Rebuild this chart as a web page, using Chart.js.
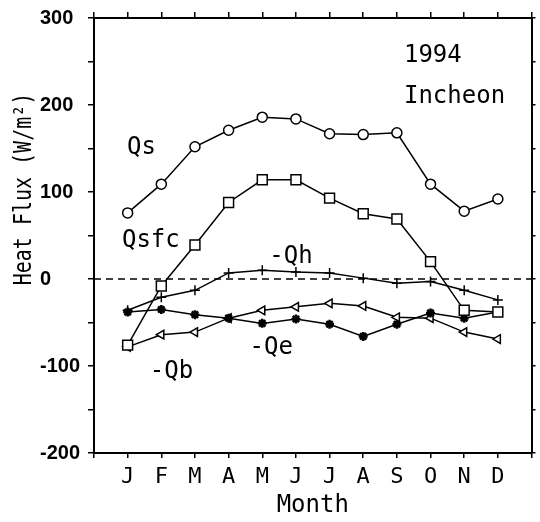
<!DOCTYPE html>
<html>
<head>
<meta charset="utf-8">
<script src="https://cdn.jsdelivr.net/npm/chart.js@4.4.0/dist/chart.umd.min.js"></script>
<style>
  html, body { margin: 0; padding: 0; background: #fff; }
</style>
</head>
<body>
<canvas id="graf" width="540" height="522"></canvas>
<script>
// --- DATOS (W/m2, Incheon 1994) ---
const meses = ["J", "F", "M", "A", "M", "J", "J", "A", "S", "O", "N", "D"];
const Qs   = [76, 109, 152, 171, 186, 184, 167, 166, 168, 109, 78, 92];
const Qsfc = [-76, -8, 39, 88, 114, 114, 93, 75, 69, 20, -36, -38];
const Qh   = [-36, -21, -13, 7, 10, 8, 7, 1, -5, -3, -13, -24];
const Qe   = [-38, -35, -41, -45, -51, -46, -52, -66, -52, -39, -45, -38];
const Qb   = [-78, -64, -61, -45, -36, -32, -28, -31, -44, -45, -61, -69];
const yEtiquetas = [300, 200, 100, 0, -100, -200];

const MONO = "DejaVu Sans Mono";

// mes i -> x = i + 1
const serie = vals => vals.map((v, i) => ({ x: i + 1, y: v }));

function dataset(label, vals, estilo, radio, extra) {
    return Object.assign({
        label: label,
        data: serie(vals),
        borderColor: "#000",
        borderWidth: 1.5,
        pointStyle: estilo,
        pointRadius: radio,
        pointBorderColor: "#000",
        pointBorderWidth: 1.5,
        pointBackgroundColor: "#fff",
        tension: 0
    }, extra || {});
}

// --- TEXTOS SOBRE LA GRAFICA ---
const textosPlugin = {
    id: "textos",
    beforeDatasetsDraw(chart) {
        const { ctx, chartArea, scales } = chart;
        const y0 = scales.y.getPixelForValue(0);
        ctx.save();
        ctx.strokeStyle = "#000";
        ctx.lineWidth = 1.5;
        ctx.setLineDash([7, 5]);
        ctx.beginPath();
        ctx.moveTo(chartArea.left, y0);
        ctx.lineTo(chartArea.right, y0);
        ctx.stroke();
        ctx.restore();
    },
    afterDraw(chart) {
        const { ctx, scales } = chart;
        const notas = [
            { t: "1994", x: 9.21, y: 257 },
            { t: "Incheon", x: 9.21, y: 209 },
            { t: "Qs", x: 0.98, y: 151 },
            { t: "Qsfc", x: 0.83, y: 44 },
            { t: "-Qh", x: 5.21, y: 26 },
            { t: "-Qe", x: 4.62, y: -79 },
            { t: "-Qb", x: 1.66, y: -107 }
        ];
        ctx.save();
        ctx.fillStyle = "#000";
        ctx.font = "24px '" + MONO + "'";
        ctx.textAlign = "left";
        ctx.textBaseline = "middle";
        notas.forEach(n => {
            ctx.fillText(n.t, scales.x.getPixelForValue(n.x), scales.y.getPixelForValue(n.y));
        });

        // titulo eje Y (letras altas y estrechas como en el original)
        ctx.translate(24, 189);
        ctx.rotate(-Math.PI / 2);
        ctx.scale(1, 1.25);
        ctx.textAlign = "center";
        ctx.font = "20px '" + MONO + "'";
        ctx.fillText("Heat Flux (W/m²)", 0, 0);
        ctx.restore();
    }
};

const gridEje = len => ({
    drawOnChartArea: false,
    drawTicks: true,
    tickLength: len,
    color: "#000",
    lineWidth: 1.5
});
const borde = { display: true, color: "#000", width: 2 };

new Chart(document.getElementById("graf"), {
    type: "line",
    data: {
        datasets: [
            dataset("Qs", Qs, "circle", 5),
            dataset("Qsfc", Qsfc, "rect", 7),
            dataset("-Qh", Qh, "cross", 5),
            dataset("-Qe", Qe, "star", 4.5, { pointBorderWidth: 2.5 }),
            dataset("-Qb", Qb, "triangle", 5, { pointRotation: -90 })
        ]
    },
    options: {
        responsive: false,
        animation: false,
        devicePixelRatio: 1,
        layout: { padding: { left: 40, right: 0, top: 0, bottom: 0 } },
        plugins: {
            legend: { display: false },
            tooltip: { enabled: false }
        },
        scales: {
            x: {
                type: "linear",
                position: "bottom",
                min: 0,
                max: 13,
                ticks: {
                    stepSize: 1,
                    autoSkip: false,
                    maxRotation: 0,
                    padding: 6,
                    color: "#000",
                    font: { family: MONO, size: 22 },
                    callback: v => (v >= 1 && v <= 12) ? meses[v - 1] : ""
                },
                grid: gridEje(5),
                border: borde,
                title: {
                    display: true,
                    text: "Month",
                    color: "#000",
                    font: { family: MONO, size: 24 },
                    padding: { top: 0, bottom: 2 }
                },
                afterFit: s => { s.height = 69; }
            },
            xTop: {
                type: "linear",
                position: "top",
                min: 0,
                max: 13,
                ticks: { stepSize: 1, display: false },
                grid: gridEje(6),
                border: borde,
                afterFit: s => { s.height = 18; }
            },
            y: {
                min: -200,
                max: 300,
                ticks: {
                    stepSize: 50,
                    crossAlign: "far",
                    color: "#000",
                    font: { family: "Liberation Sans", size: 20, weight: "bold" },
                    callback: v => yEtiquetas.includes(v) ? String(v) : ""
                },
                grid: gridEje(6),
                border: borde,
                afterFit: s => { s.width = 54; }
            },
            y2: {
                position: "right",
                min: -200,
                max: 300,
                ticks: { stepSize: 50, display: false },
                grid: gridEje(4),
                border: borde,
                afterFit: s => { s.width = 7; }
            }
        }
    },
    plugins: [textosPlugin]
});
</script>
</body>
</html>
